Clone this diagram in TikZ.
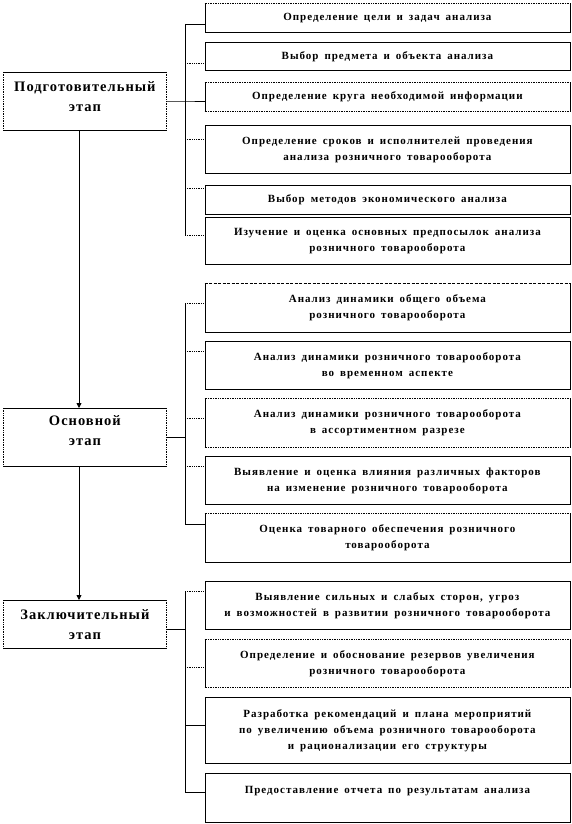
\documentclass[tikz,border=0pt]{standalone}
\usepackage{fontspec}
\setmainfont{Liberation Serif}
\newfontfamily\boxfont[LetterSpace=9,WordSpace=1.6]{Liberation Serif}
\newfontfamily\stagefont[LetterSpace=7]{Liberation Serif}
\usetikzlibrary{arrows.meta}
\newcommand\dotedge[2]{\draw[white,line width=1.4pt](#1)--(#2);\draw[black,line width=0.7pt,densely dotted](#1)--(#2);}
\begin{document}
\begin{tikzpicture}[x=1pt,y=-1pt,
  rbox/.style={draw=black,line width=0.8pt,anchor=north west,minimum width=365pt,inner sep=0pt,align=center,
    font=\boxfont\bfseries\fontsize{11}{16}\selectfont},
  lbox/.style={draw=black,line width=0.8pt,anchor=north west,minimum width=163pt,inner sep=0pt,align=center,
    font=\stagefont\bfseries\fontsize{14.5}{20}\selectfont},
  conn/.style={line width=0.8pt},
  dconn/.style={line width=0.8pt,densely dotted},
  arr/.style={line width=0.8pt,-{Triangle[width=5pt,length=5pt]}}]
\useasboundingbox (0,0) rectangle (572,824);
% left stage boxes
\node[lbox,minimum height=58pt,text depth=10pt] (p1) at (3,72) {Подготовительный\\этап};
\node[lbox,minimum height=58pt,text depth=14pt] (p2) at (3,408) {Основной\\этап};
\node[lbox,minimum height=48pt] (p3) at (3,600) {Заключительный\\этап};
% right boxes
\node[rbox,minimum height=29pt] (b1) at (204.5,3) {Определение  цели  и  задач  анализа};
\node[rbox,minimum height=28pt] (b2) at (204.5,42) {Выбор  предмета  и  объекта  анализа};
\node[rbox,minimum height=29pt] (b3) at (204.5,82) {Определение  круга  необходимой  информации};
\node[rbox,minimum height=48pt] (b4) at (204.5,125) {Определение  сроков  и исполнителей  проведения\\анализа  розничного  товарооборота};
\node[rbox,minimum height=29pt] (b5) at (204.5,185) {Выбор  методов  экономического  анализа};
\node[rbox,minimum height=47pt] (b6) at (204.5,217) {Изучение  и оценка  основных  предпосылок  анализа\\розничного  товарооборота};
\node[rbox,minimum height=49pt] (b7) at (204.5,283) {Анализ  динамики  общего  объема\\розничного  товарооборота};
\node[rbox,minimum height=48pt] (b8) at (204.5,341) {Анализ  динамики  розничного  товарооборота\\во временном  аспекте};
\node[rbox,minimum height=49pt] (b9) at (204.5,398) {Анализ  динамики  розничного  товарооборота\\в ассортиментном  разрезе};
\node[rbox,minimum height=48pt] (b10) at (204.5,456) {Выявление  и оценка  влияния  различных  факторов\\на изменение  розничного  товарооборота};
\node[rbox,minimum height=49pt] (b11) at (204.5,513) {Оценка  товарного  обеспечения  розничного\\товарооборота};
\node[rbox,minimum height=48pt] (b12) at (204.5,581) {Выявление  сильных  и слабых  сторон,  угроз\\и возможностей  в развитии  розничного  товарооборота};
\node[rbox,minimum height=48pt] (b13) at (204.5,639) {Определение  и обоснование  резервов  увеличения\\розничного  товарооборота};
\node[rbox,minimum height=66pt] (b14) at (204.5,697) {Разработка  рекомендаций  и плана  мероприятий\\по увеличению  объема  розничного  товарооборота\\и рационализации  его структуры};
\node[rbox,minimum height=49pt] (b15) at (204.5,773) {Предоставление  отчета  по результатам  анализа\\\mbox{}};
% dotted edges
\dotedge{b1.north west}{b1.north east}
\dotedge{b3.north west}{b3.north east}
\dotedge{b3.south west}{b3.south east}
\draw[white,line width=1.4pt](b7.north west)--(b7.north east);
\draw[black,line width=0.7pt,dashed,dash pattern=on 3pt off 1.5pt](b7.north west)--(b7.north east);
\dotedge{b9.north west}{b9.north east}
\dotedge{b9.south west}{b9.south east}
\dotedge{b11.north west}{b11.north east}
\dotedge{b13.north west}{b13.north east}
\dotedge{b13.south west}{b13.south east}
\dotedge{p1.north west}{p1.south west}
\dotedge{p1.north east}{p1.south east}
\dotedge{p2.north west}{p2.south west}
\dotedge{p2.north east}{p2.south east}
\dotedge{p3.north west}{p3.south west}
\dotedge{p3.north east}{p3.south east}
% bus joints
\coordinate (j1) at (185,24);
\coordinate (j2) at (185,63);
\coordinate (j3) at (185,101);
\coordinate (j4) at (185,139);
\coordinate (j5) at (185,188);
\coordinate (j6) at (185,235);
\coordinate (k1) at (185,303);
\coordinate (k2) at (185,351);
\coordinate (k3) at (185,418);
\coordinate (k4) at (185,466);
\coordinate (k5) at (185,524);
\coordinate (k0) at (185,437);
\coordinate (m1) at (185,591);
\coordinate (m2) at (185,667);
\coordinate (m3) at (185,725);
\coordinate (m4) at (185,792);
\coordinate (m0) at (185,629);
% group 1
\draw[conn] (j1) -- (j6);
\draw[conn] (j3 -| p1.east) -- (j3) -- (j3 -| b3.west);
\draw[conn] (j1) -- (j1 -| b1.west);
\draw[dconn] (j2) -- (j2 -| b2.west);
\draw[dconn] (j4) -- (j4 -| b4.west);
\draw[dconn] (j5) -- (j5 -| b5.west);
\draw[dconn] (j6) -- (j6 -| b6.west);
% group 2
\draw[conn] (k1) -- (k5);
\draw[conn] (k0 -| p2.east) -- (k0);
\draw[dconn] (k1) -- (k1 -| b7.west);
\draw[dconn] (k2) -- (k2 -| b8.west);
\draw[dconn] (k3) -- (k3 -| b9.west);
\draw[dconn] (k4) -- (k4 -| b10.west);
\draw[conn] (k5) -- (k5 -| b11.west);
% group 3
\draw[conn] (m1) -- (m4);
\draw[conn] (m0 -| p3.east) -- (m0);
\draw[dconn] (m1) -- (m1 -| b12.west);
\draw[dconn] (m2) -- (m2 -| b13.west);
\draw[conn] (m3) -- (m3 -| b14.west);
\draw[conn] (m4) -- (m4 -| b15.west);
% stage arrows
\coordinate (ax) at (79,0);
\draw[arr] (p1.south -| ax) -- (p2.north -| ax);
\draw[arr] (p2.south -| ax) -- (p3.north -| ax);
\end{tikzpicture}
\end{document}
